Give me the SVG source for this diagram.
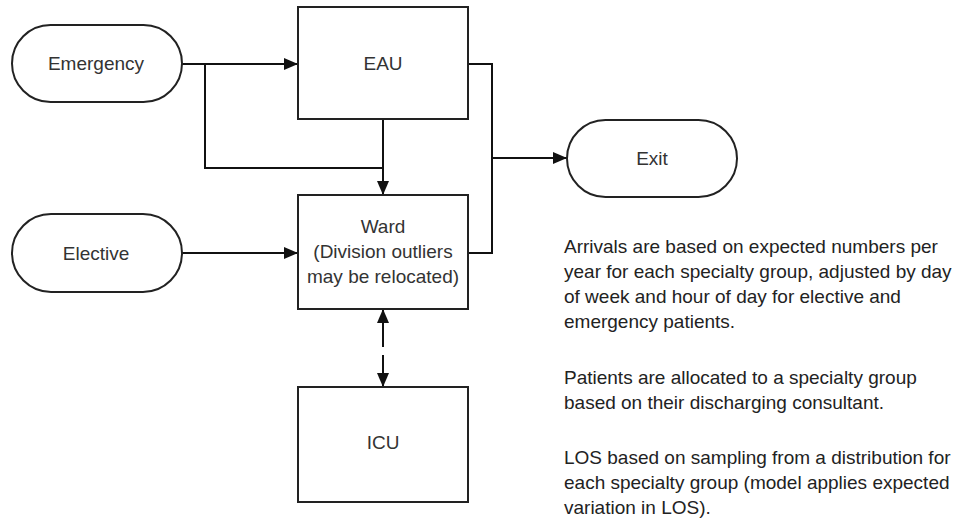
<svg xmlns="http://www.w3.org/2000/svg" width="959" height="520" viewBox="0 0 959 520">
<style>
.shape{fill:#fff;stroke:#222;stroke-width:2}
.lbl{font-family:"Liberation Sans",Arial,sans-serif;font-size:19px;fill:#333;text-anchor:middle}
.note{font-family:"Liberation Sans",Arial,sans-serif;font-size:19px;fill:#222}
.conn{fill:none;stroke:#111;stroke-width:2}
</style>
<defs>
<marker id="arr" viewBox="0 0 14 12" refX="14" refY="6" markerWidth="14" markerHeight="12" markerUnits="userSpaceOnUse" orient="auto-start-reverse">
<path d="M0,0 L14,6 L0,12 Z" fill="#111"/>
</marker>
</defs>
<rect width="959" height="520" fill="#fff"/>
<g id="connectors">
<path class="conn" d="M182,64 H298" marker-end="url(#arr)"/>
<path class="conn" d="M205,64 V168 H383"/>
<path class="conn" d="M383,119 V195" marker-end="url(#arr)"/>
<path class="conn" d="M182,253 H298" marker-end="url(#arr)"/>
<path class="conn" d="M468,64 H492 V253 H468"/>
<path class="conn" d="M492,158 H567" stroke-width="2.5" marker-end="url(#arr)"/>
<path class="conn" d="M383,309 V387" stroke-dasharray="38,8" marker-start="url(#arr)" marker-end="url(#arr)"/>
</g>
<g id="emergency">
<rect class="shape" x="12" y="25" width="170" height="77" rx="38.5"/>
<text class="lbl" x="96" y="70">Emergency</text>
</g>
<g id="eau">
<rect class="shape" x="298" y="7" width="170" height="112"/>
<text class="lbl" x="383" y="70">EAU</text>
</g>
<g id="elective">
<rect class="shape" x="12" y="214" width="170" height="78" rx="39"/>
<text class="lbl" x="96" y="260">Elective</text>
</g>
<g id="ward">
<rect class="shape" x="298" y="195" width="170" height="114"/>
<text class="lbl" x="383" y="233">Ward</text>
<text class="lbl" x="383" y="258">(Division outliers</text>
<text class="lbl" x="383" y="283">may be relocated)</text>
</g>
<g id="icu">
<rect class="shape" x="298" y="387" width="170" height="115"/>
<text class="lbl" x="383" y="449">ICU</text>
</g>
<g id="exit">
<rect class="shape" x="567" y="120" width="170" height="77" rx="38.5"/>
<text class="lbl" x="652" y="165">Exit</text>
</g>
<g id="notes">
<text class="note" x="564" y="253">Arrivals are based on expected numbers per</text>
<text class="note" x="564" y="278">year for each specialty group, adjusted by day</text>
<text class="note" x="564" y="303">of week and hour of day for elective and</text>
<text class="note" x="564" y="328">emergency patients.</text>
<text class="note" x="564" y="384">Patients are allocated to a specialty group</text>
<text class="note" x="564" y="409">based on their discharging consultant.</text>
<text class="note" x="564" y="464">LOS based on sampling from a distribution for</text>
<text class="note" x="564" y="489">each specialty group (model applies expected</text>
<text class="note" x="564" y="514">variation in LOS).</text>
</g>
</svg>
